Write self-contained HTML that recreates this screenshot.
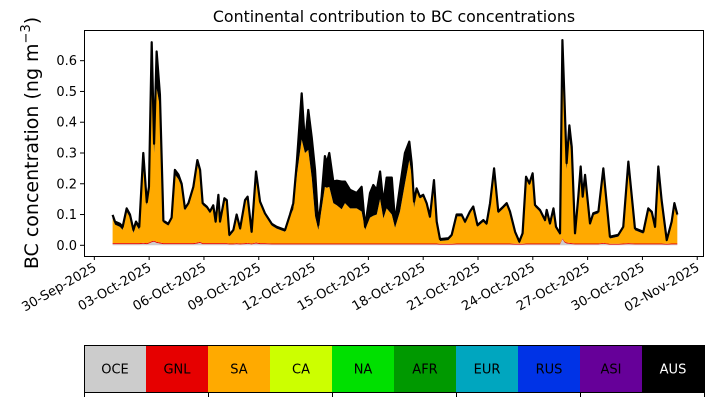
<!DOCTYPE html>
<html><head><meta charset="utf-8">
<style>
body{margin:0;background:#fff;width:714px;height:402px;overflow:hidden;font-family:"DejaVu Sans","Liberation Sans",sans-serif;}
svg text{font-family:"DejaVu Sans","Liberation Sans",sans-serif;}
</style></head>
<body>
<svg id="chart" width="714" height="402" xmlns="http://www.w3.org/2000/svg">
<text x="394" y="22" font-size="15.8" text-anchor="middle">Continental contribution to BC concentrations</text>
<text transform="translate(38,143) rotate(-90)" font-size="19" text-anchor="middle">BC concentration (ng m<tspan dy="-8" font-size="13">−3</tspan><tspan dy="8">)</tspan></text>
<g id="plot"></g>
<g id="legend"></g>
</svg>
<script>
const times = [
0,0.13,0.40,0.55,0.77,0.95,1.14,1.28,1.46,1.68,
1.87,1.99,2.14,2.27,2.41,2.59,2.78,3.05,3.23,3.41,
3.60,3.78,3.96,4.15,4.42,4.64,4.79,4.93,5.15,5.33,
5.51,5.64,5.79,5.88,6.12,6.25,6.39,6.61,6.79,6.98,
7.25,7.39,7.61,7.85,8.07,8.34,8.71,8.98,9.44,9.71,
9.89,10.08,10.35,10.53,10.71,10.90,11.08,11.26,11.44,11.62,
11.72,11.86,12.08,12.27,12.54,12.72,13.0,13.36,13.63,13.82,
14.09,14.27,14.46,14.64,14.82,15.0,15.28,15.46,15.73,16.0,
16.24,16.37,16.5,16.64,16.82,17.0,17.19,17.37,17.59,17.74,
17.92,18.38,18.56,18.83,19.1,19.29,19.56,19.74,19.97,20.29,
20.47,20.66,20.88,21.11,21.39,21.57,21.75,22.03,22.26,22.44,
22.63,22.81,22.99,23.12,23.39,23.67,23.76,23.94,24.13,24.27,
24.49,24.62,24.73,24.85,25.0,25.13,25.31,25.49,25.62,25.73,
25.86,26.13,26.31,26.59,26.86,27.22,27.68,27.95,28.23,28.59,
29.05,29.32,29.51,29.69,29.87,30.05,30.33,30.6,30.75,30.91];
const total = [
.099,.077,.07,.06,.12,.10,.05,.077,.06,.30,
.14,.19,.66,.33,.63,.49,.08,.07,.09,.245,
.23,.20,.12,.137,.19,.277,.245,.137,.126,.11,
.13,.077,.164,.077,.153,.147,.034,.05,.10,.055,
.147,.158,.044,.24,.142,.104,.07,.06,.05,.10,
.137,.267,.494,.33,.44,.35,.245,.066,.158,.29,
.267,.30,.207,.21,.207,.207,.18,.17,.19,.06,
.17,.196,.18,.24,.137,.22,.22,.077,.19,.30,
.337,.267,.142,.185,.158,.164,.137,.093,.212,.077,
.02,.023,.034,.10,.10,.077,.11,.126,.066,.082,
.071,.137,.25,.11,.126,.137,.11,.044,.012,.039,
.223,.201,.234,.131,.115,.082,.115,.071,.12,.06,
.039,.667,.48,.267,.39,.32,.039,.158,.256,.158,
.229,.071,.104,.11,.25,.028,.034,.06,.272,.055,
.044,.12,.109,.06,.256,.147,.017,.077,.137,.1];
const aus = [
.012,.01,.01,.01,.01,.01,.01,.01,.01,.02,
.01,.02,.10,.03,.12,.04,.006,.006,.006,.015,
.015,.01,.006,.006,.006,.015,.01,.006,.006,.006,
.006,.006,.006,.006,.006,.006,.006,.006,.006,.006,
.006,.006,.006,.015,.006,.006,.006,.006,.006,.006,
.02,.04,.15,.03,.13,.13,.15,.016,.04,.10,
.08,.11,.07,.08,.09,.07,.06,.05,.08,.01,
.08,.10,.08,.09,.05,.10,.12,.02,.08,.10,
.06,.04,.02,.006,.006,.006,.006,.006,.006,.006,
.006,.006,.006,.006,.006,.006,.006,.006,.006,.006,
.006,.006,.006,.006,.006,.006,.006,.006,.006,.006,
.006,.006,.006,.006,.006,.006,.006,.006,.006,.006,
.006,.08,.05,.02,.04,.03,.006,.006,.006,.006,
.006,.006,.006,.006,.006,.006,.006,.006,.006,.006,
.006,.006,.006,.006,.006,.006,.006,.006,.006,.006];
const oce = [
.004,.004,.004,.004,.004,.004,.004,.004,.004,.005,
.004,.006,.01,.012,.008,.006,.004,.004,.004,.004,
.004,.004,.004,.004,.004,.006,.008,.004,.004,.004,
.004,.004,.004,.004,.004,.004,.003,.003,.004,.003,
.004,.005,.003,.006,.004,.004,.003,.003,.003,.003,
.003,.003,.003,.003,.003,.003,.003,.003,.003,.003,
.003,.003,.003,.003,.003,.003,.003,.003,.003,.003,
.003,.003,.003,.003,.003,.003,.003,.003,.003,.003,
.003,.003,.003,.003,.003,.003,.003,.003,.003,.003,
.002,.002,.002,.003,.003,.003,.003,.003,.003,.003,
.003,.003,.003,.003,.003,.003,.003,.002,.002,.002,
.003,.003,.003,.003,.003,.003,.003,.003,.003,.003,
.003,.02,.01,.006,.005,.004,.003,.003,.003,.003,
.003,.003,.003,.003,.005,.002,.002,.003,.004,.003,
.003,.003,.003,.003,.003,.003,.002,.003,.003,.003];
const gnl = [
.003,.003,.003,.003,.003,.003,.003,.003,.003,.003,
.003,.003,.003,.003,.003,.003,.003,.003,.003,.003,
.003,.003,.003,.003,.003,.003,.003,.003,.003,.003,
.003,.003,.003,.003,.003,.003,.003,.003,.003,.003,
.003,.003,.003,.003,.003,.003,.003,.003,.003,.003,
.003,.003,.003,.003,.003,.003,.003,.003,.003,.003,
.003,.003,.003,.003,.003,.003,.003,.003,.003,.003,
.003,.003,.003,.003,.003,.003,.003,.003,.003,.003,
.003,.003,.003,.003,.003,.003,.003,.003,.003,.003,
.003,.003,.003,.003,.003,.003,.003,.003,.003,.003,
.003,.003,.003,.003,.003,.003,.003,.003,.003,.003,
.003,.003,.003,.003,.003,.003,.003,.003,.003,.003,
.003,.003,.003,.003,.003,.003,.003,.003,.003,.003,
.003,.003,.003,.003,.003,.003,.003,.003,.003,.003,
.003,.003,.003,.003,.003,.003,.003,.003,.003,.003];
const yTicks = [0.0,0.1,0.2,0.3,0.4,0.5,0.6];
const yTickLabels = ["0.0","0.1","0.2","0.3","0.4","0.5","0.6"];
const xTicks = [-1,2,5,8,11,14,17,20,23,26,29,32];
const xTickLabels = ["30-Sep-2025","03-Oct-2025","06-Oct-2025","09-Oct-2025","12-Oct-2025","15-Oct-2025","18-Oct-2025","21-Oct-2025","24-Oct-2025","27-Oct-2025","30-Oct-2025","02-Nov-2025"];
const regions = ["OCE","GNL","SA","CA","NA","AFR","EUR","RUS","ASI","AUS"];
const regionColors = ["#cccccc","#e60000","#ffaa00","#ccff00","#00e000","#009900","#00a6bf","#0033e6","#660099","#000000"];

const NS="http://www.w3.org/2000/svg";
const L=84,R=703,T=30,B=256;
const X0=112.6, DX=18.27, Y0=245.3, DY=307.7;
const xs=d=>X0+d*DX;
const ys=v=>Y0-v*DY;
function mk(tag,attrs,parent){const e=document.createElementNS(NS,tag);for(const k in attrs)e.setAttribute(k,attrs[k]);parent.appendChild(e);return e;}
const plot=document.getElementById('plot');

const n=times.length;
const c0=[],c1=[],c2=[],c3=[];
for(let i=0;i<n;i++){
  c0.push(oce[i]);
  c1.push(oce[i]+gnl[i]);
  const top=total[i];
  const saTop=Math.max(c1[i],top-aus[i]);
  c2.push(saTop);
  c3.push(top);
}
function band(lo,hi,color,name){
  let d='M'+xs(times[0])+','+ys(hi[0]);
  for(let i=1;i<n;i++)d+='L'+xs(times[i]).toFixed(2)+','+ys(hi[i]).toFixed(2);
  for(let i=n-1;i>=0;i--)d+='L'+xs(times[i]).toFixed(2)+','+ys(lo?lo[i]:0).toFixed(2);
  const p=mk('path',{d:d+'Z',fill:color,stroke:'none'},plot);
  
  
}
band(null,c0,'#cccccc','oce-area');
band(c0,c1,'#e60000','gnl-area');
band(c1,c2,'#ffaa00','sa-area');
band(c2,c3,'#000000','aus-area');
let ld='';
for(let i=0;i<n;i++)ld+=(i?'L':'M')+xs(times[i]).toFixed(2)+','+ys(total[i]).toFixed(2);
const line=mk('path',{d:ld,fill:'none',stroke:'#000','stroke-width':2.2,'stroke-linejoin':'round'},plot);



const frame=mk('rect',{x:L+0.5,y:T+0.5,width:R-L,height:B-T,fill:'none',stroke:'#000','stroke-width':1},plot);



yTicks.forEach((v,i)=>{
  const y=ys(v);
  mk('line',{x1:L-4,x2:L,y1:y,y2:y,stroke:'#000'},plot);
  const t=mk('text',{x:L-7,y:y+4.5,'font-size':13,'text-anchor':'end'},plot);
  t.textContent=yTickLabels[i];
  
  
});
xTicks.forEach((d,i)=>{
  const x=xs(d);
  mk('line',{x1:x,x2:x,y1:B,y2:B+4,stroke:'#000'},plot);
  const t=mk('text',{x:0,y:0,'font-size':13,'text-anchor':'end',transform:`translate(${x+3},${B+14}) rotate(-30)`},plot);
  t.textContent=xTickLabels[i];
  
  
});

const lg=document.getElementById('legend');
const LX=84, LW=620, LT=345, LH=47, cw=LW/regions.length;
regions.forEach((r,i)=>{
  const rc=mk('rect',{x:LX+i*cw,y:LT,width:cw+0.5,height:LH,fill:regionColors[i]},lg);
  
  
  const t=mk('text',{x:LX+i*cw+cw/2,y:LT+LH/2+5,'font-size':13,'text-anchor':'middle',fill:r==='AUS'?'#fff':'#000'},lg);
  t.textContent=r;
  
  
});
const lf=mk('rect',{x:LX+0.5,y:LT+0.5,width:LW,height:LH,fill:'none',stroke:'#000'},lg);


for(let k=0;k<=5;k++){
  const x=LX+k*2*cw;
  mk('line',{x1:x+0.5,x2:x+0.5,y1:LT+LH,y2:LT+LH+5,stroke:'#000'},lg);
}
</script>
</body></html>
